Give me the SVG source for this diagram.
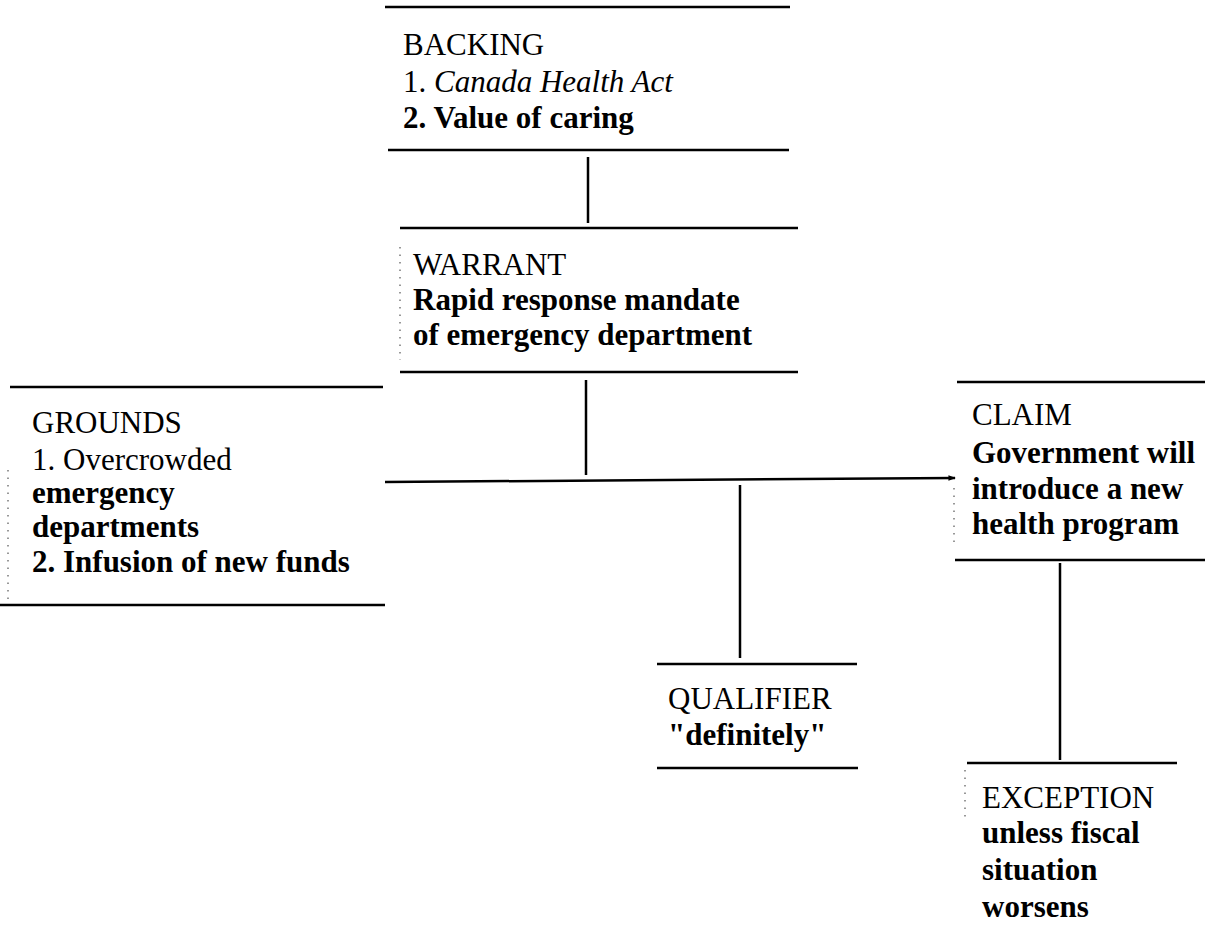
<svg xmlns="http://www.w3.org/2000/svg" width="1205" height="939" viewBox="0 0 1205 939">
<defs>
<style>
text{font-family:"Liberation Serif","Times New Roman",serif;font-size:31px;fill:#000}
.h{font-weight:normal}
.b{font-weight:bold}
.i{font-style:italic;font-weight:normal}
.rule{stroke:#000;stroke-width:2.5;fill:none}
.dot{stroke:#777;stroke-width:1.5;stroke-dasharray:1.5 6;fill:none}
.conn{stroke:#000;stroke-width:2.5;fill:none}
</style>
<marker id="arr" viewBox="0 0 8 8" refX="7" refY="4" markerWidth="3" markerHeight="3" orient="auto" markerUnits="strokeWidth">
<path d="M0,1 L8,4 L0,7 z" fill="#000"/>
</marker>
</defs>
<rect width="1205" height="939" fill="#fff"/>
<g id="connectors">
<line class="conn" x1="588" y1="157" x2="588" y2="223"/>
<line class="conn" x1="586" y1="380" x2="586" y2="475"/>
<line class="conn" x1="385" y1="482" x2="955" y2="478" stroke-width="3.5" marker-end="url(#arr)"/>
<line class="conn" x1="740" y1="485" x2="740" y2="658"/>
<line class="conn" x1="1060" y1="563" x2="1060" y2="760"/>
</g>
<g id="backing">
<line class="rule" x1="385" y1="7" x2="790" y2="7"/>
<line class="rule" x1="388" y1="150" x2="789" y2="150"/>
<text x="403" y="55" class="h">BACKING</text>
<text x="403" y="92"><tspan class="h">1. </tspan><tspan class="i">Canada Health Act</tspan></text>
<text x="403" y="128" class="b">2. Value of caring</text>
</g>
<g id="warrant">
<line class="rule" x1="400" y1="228" x2="798" y2="228"/>
<line class="rule" x1="400" y1="372" x2="798" y2="372"/>
<line class="dot" x1="400" y1="247" x2="400" y2="360"/>
<text x="413" y="275" class="h">WARRANT</text>
<text x="413" y="310" class="b">Rapid response mandate</text>
<text x="413" y="345" class="b">of emergency department</text>
</g>
<g id="grounds">
<line class="rule" x1="10" y1="387" x2="383" y2="387"/>
<line class="rule" x1="0" y1="605" x2="385" y2="605"/>
<line class="dot" x1="8" y1="470" x2="8" y2="600"/>
<text x="32" y="433" class="h">GROUNDS</text>
<text x="32" y="470" class="h">1. Overcrowded</text>
<text x="32" y="503" class="b">emergency</text>
<text x="32" y="537" class="b">departments</text>
<text x="32" y="572" class="b">2. Infusion of new funds</text>
</g>
<g id="claim">
<line class="rule" x1="957" y1="382" x2="1205" y2="382"/>
<line class="rule" x1="955" y1="560" x2="1205" y2="560"/>
<line class="dot" x1="954" y1="488" x2="954" y2="545"/>
<text x="972" y="425" class="h">CLAIM</text>
<text x="972" y="463" class="b">Government will</text>
<text x="972" y="499" class="b">introduce a new</text>
<text x="972" y="534" class="b">health program</text>
</g>
<g id="qualifier">
<line class="rule" x1="657" y1="664" x2="857" y2="664"/>
<line class="rule" x1="657" y1="768" x2="858" y2="768"/>
<text x="668" y="709" class="h">QUALIFIER</text>
<text x="668" y="745" class="b">"definitely"</text>
</g>
<g id="exception">
<line class="rule" x1="967" y1="763" x2="1177" y2="763"/>
<line class="dot" x1="965" y1="770" x2="965" y2="820"/>
<text x="982" y="808" class="h">EXCEPTION</text>
<text x="982" y="843" class="b">unless fiscal</text>
<text x="982" y="880" class="b">situation</text>
<text x="982" y="917" class="b">worsens</text>
</g>
</svg>
